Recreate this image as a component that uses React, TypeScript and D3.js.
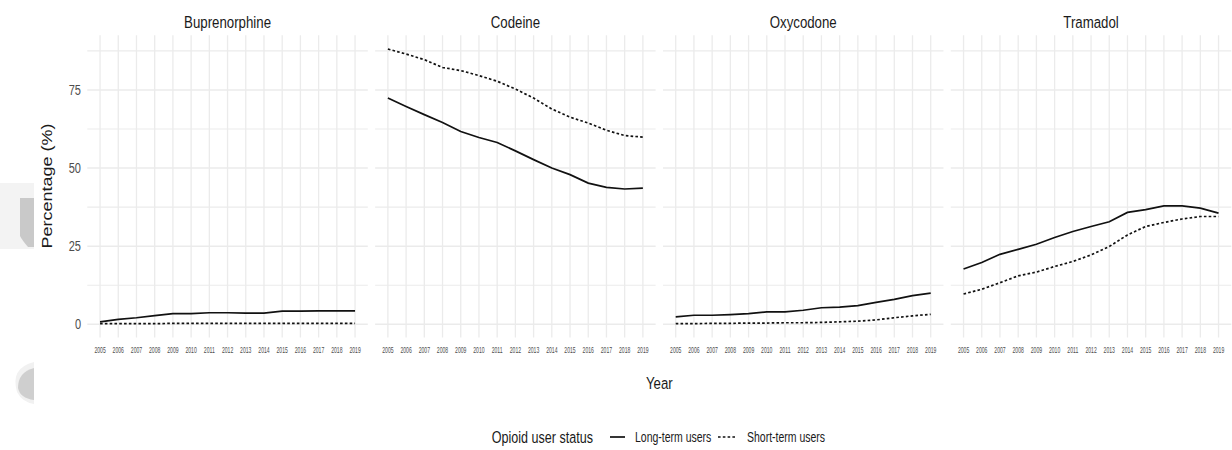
import React from "react";
import * as d3 from "d3";

const years = [2005, 2006, 2007, 2008, 2009, 2010, 2011, 2012, 2013, 2014, 2015, 2016, 2017, 2018, 2019];
const drugs = ["Buprenorphine", "Codeine", "Oxycodone", "Tramadol"];

const buprenorphineLong = [0.8, 1.6, 2.1, 2.8, 3.4, 3.4, 3.7, 3.7, 3.6, 3.6, 4.2, 4.2, 4.3, 4.3, 4.3];
const buprenorphineShort = [0.2, 0.2, 0.2, 0.2, 0.3, 0.3, 0.3, 0.3, 0.3, 0.3, 0.3, 0.3, 0.3, 0.3, 0.3];
const codeineLong = [72.4, 69.7, 67.1, 64.6, 61.7, 59.8, 58.2, 55.5, 52.7, 50.0, 47.9, 45.2, 43.8, 43.3, 43.6];
const codeineShort = [88.1, 86.5, 84.7, 82.2, 81.2, 79.6, 77.8, 75.3, 72.4, 68.9, 66.3, 64.4, 62.1, 60.4, 59.9];
const oxycodoneLong = [2.4, 2.9, 2.9, 3.1, 3.4, 4.0, 4.0, 4.5, 5.3, 5.5, 6.0, 7.0, 8.0, 9.2, 10.0];
const oxycodoneShort = [0.2, 0.2, 0.3, 0.3, 0.4, 0.4, 0.5, 0.5, 0.6, 0.8, 1.0, 1.4, 2.1, 2.7, 3.2];
const tramadolLong = [17.7, 19.8, 22.4, 24.0, 25.6, 27.8, 29.7, 31.3, 32.8, 35.8, 36.7, 37.9, 37.9, 37.2, 35.6];
const tramadolShort = [9.7, 11.2, 13.3, 15.5, 16.7, 18.5, 20.1, 22.2, 24.9, 28.6, 31.3, 32.6, 33.7, 34.5, 34.5];

const longSeries = [buprenorphineLong, codeineLong, oxycodoneLong, tramadolLong];
const shortSeries = [buprenorphineShort, codeineShort, oxycodoneShort, tramadolShort];

const yBreaks = [0, 25, 50, 75];
const yMinor = [12.5, 37.5, 62.5, 87.5];
const legendTitle = "Opioid user status";
const legendLabels = ["Long-term users", "Short-term users"];

const FONT = "'Liberation Sans', Arial, Helvetica, sans-serif";

function HText({ x, y, sx = 0.77, size, fill = "#1a1a1a", anchor = "middle", children }: any) {
  return (
    <text
      transform={`translate(${x},${y}) scale(${sx},1)`}
      textAnchor={anchor}
      dominantBaseline="central"
      fontSize={size}
      fontFamily={FONT}
      fill={fill}
    >
      {children}
    </text>
  );
}

export default function App() {
  const W = 1232;
  const H = 450;
  const left0 = 87.3;
  const panelW = 280.5;
  const spacing = 7.33;
  const top = 35.3;
  const bottom = 337.4;

  const all = [...longSeries.flat(), ...shortSeries.flat()];
  const mn = d3.min(all) as number;
  const mx = d3.max(all) as number;
  const pad = (mx - mn) * 0.05;
  const y = d3.scaleLinear().domain([mn - pad, mx + pad]).range([bottom, top]);

  const xPad = (years[years.length - 1] - years[0]) * 0.05;
  const gridColor = "#ebebeb";

  return (
    <svg width={W} height={H} style={{ position: "absolute", left: 0, top: 0, background: "#fff" }}>
      {/* faint artifacts on the left edge */}
      <rect x={0} y={183} width={34} height={66} fill="#f3f3f3" />
      <path d="M20,198 L34,198 L34,247 L28,247 Q22,240 20,236 Z" fill="#c9c9c9" />
      <path d="M34,362 Q10,368 17,392 Q22,402 34,404 Z" fill="#f1f1f1" />
      <path d="M34,368 Q18,372 18,388 Q20,398 34,400 Z" fill="#cfcfcf" />

      {drugs.map((drug, i) => {
        const x0 = left0 + i * (panelW + spacing);
        const x = d3
          .scaleLinear()
          .domain([years[0] - xPad, years[years.length - 1] + xPad])
          .range([x0, x0 + panelW]);
        const line = d3
          .line<number>()
          .x((_, k) => x(years[k]))
          .y((v) => y(v));
        return (
          <g key={drug}>
            {yMinor.map((v) => (
              <line key={"mi" + v} x1={x0} x2={x0 + panelW} y1={y(v)} y2={y(v)} stroke={gridColor} strokeWidth={1.1} />
            ))}
            {yBreaks.map((v) => (
              <line key={"ma" + v} x1={x0} x2={x0 + panelW} y1={y(v)} y2={y(v)} stroke={gridColor} strokeWidth={1.4} />
            ))}
            {years.map((yr) => (
              <line key={"v" + yr} x1={x(yr)} x2={x(yr)} y1={top} y2={bottom} stroke={gridColor} strokeWidth={1.3} />
            ))}
            <path d={line(shortSeries[i]) || ""} fill="none" stroke="#111" strokeWidth={1.7} strokeDasharray="2.6,2.2" />
            <path d={line(longSeries[i]) || ""} fill="none" stroke="#111" strokeWidth={1.7} />
            <HText x={x0 + panelW / 2} y={21.5} size={17} sx={0.78}>
              {drug}
            </HText>
            {years.map((yr) => (
              <HText key={"t" + yr} x={x(yr)} y={350} size={8.5} sx={0.6} fill="#4d4d4d">
                {yr}
              </HText>
            ))}
          </g>
        );
      })}

      {yBreaks.map((v) => (
        <HText key={"yl" + v} x={81} y={y(v)} size={14.5} sx={0.76} anchor="end" fill="#4d4d4d">
          {v}
        </HText>
      ))}

      <text
        transform={`translate(47,186) scale(0.78,1) rotate(-90)`}
        textAnchor="middle"
        dominantBaseline="central"
        fontSize={18}
        fontFamily={FONT}
        fill="#1a1a1a"
      >
        Percentage (%)
      </text>

      <HText x={left0 + (4 * panelW + 3 * spacing) / 2} y={383} size={17} sx={0.78}>
        Year
      </HText>

      <g>
        <HText x={491.7} y={437} size={17} sx={0.74} anchor="start">
          {legendTitle}
        </HText>
        <line x1={610} x2={625} y1={437} y2={437} stroke="#111" strokeWidth={1.7} />
        <HText x={635} y={437} size={14} sx={0.75} anchor="start">
          {legendLabels[0]}
        </HText>
        <line x1={718} x2={737} y1={437} y2={437} stroke="#111" strokeWidth={1.7} strokeDasharray="2.6,2.2" />
        <HText x={747} y={437} size={14} sx={0.75} anchor="start">
          {legendLabels[1]}
        </HText>
      </g>
    </svg>
  );
}
